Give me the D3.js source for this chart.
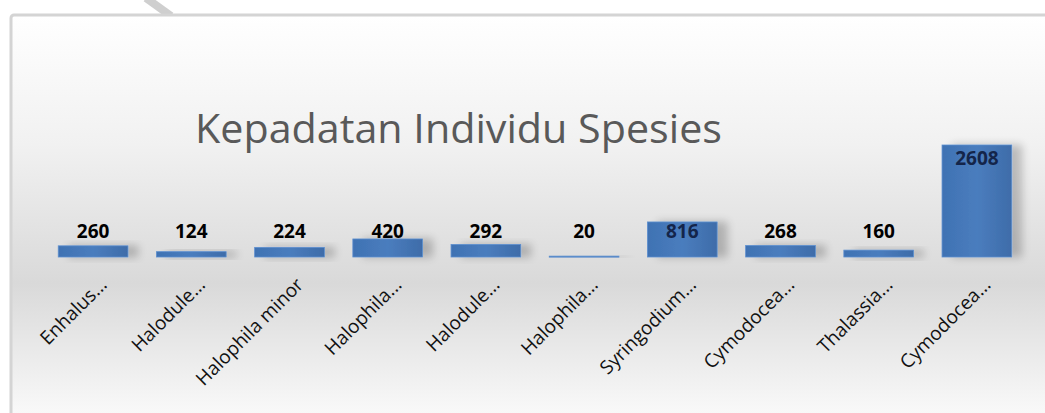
<!DOCTYPE html>
<html>
<head>
<meta charset="utf-8">
<script src="https://cdn.jsdelivr.net/npm/d3@7"></script>
<style>
  body { margin: 0; background: #fff; }
  svg { display: block; }
</style>
</head>
<body>
<div id="chart"></div>
<script>
var width = 1045,
    height = 413

// labels as they show on the axis (truncated by the original chart)
var species = ["Enhalus...", "Halodule...", "Halophila minor", "Halophila...", "Halodule...",
               "Halophila...", "Syringodium...", "Cymodocea...", "Thalassia...", "Cymodocea..."];
var values = [260, 124, 224, 420, 292, 20, 816, 268, 160, 2608];
var title = "Kepadatan Individu Spesies";

var svg = d3.select("#chart").append("svg")
    .attr("width", width)
    .attr("height", height);

var defs = svg.append("defs");

var bg = defs.append("linearGradient")
    .attr("id", "bg")
    .attr("x1", 0).attr("y1", 0).attr("x2", 0).attr("y2", 1);
bg.append("stop").attr("offset", "0%").attr("stop-color", "#ffffff");
bg.append("stop").attr("offset", "30%").attr("stop-color", "#f1f1f1");
bg.append("stop").attr("offset", "62%").attr("stop-color", "#d9d9d9");
bg.append("stop").attr("offset", "93%").attr("stop-color", "#fafafa");
bg.append("stop").attr("offset", "100%").attr("stop-color", "#ffffff");

var barGrad = defs.append("linearGradient")
    .attr("id", "bar")
    .attr("x1", 0).attr("y1", 0).attr("x2", 1).attr("y2", 0);
barGrad.append("stop").attr("offset", "0%").attr("stop-color", "#3f72b3");
barGrad.append("stop").attr("offset", "50%").attr("stop-color", "#4a7dbe");
barGrad.append("stop").attr("offset", "100%").attr("stop-color", "#3e6ca9");

var shadow = defs.append("filter")
    .attr("id", "shadow")
    .attr("x", "-20%").attr("y", "-50%")
    .attr("width", "160%").attr("height", "200%");
shadow.append("feGaussianBlur")
    .attr("in", "SourceAlpha")
    .attr("stdDeviation", 4)
    .attr("result", "blur");
shadow.append("feOffset")
    .attr("in", "blur")
    .attr("dx", 10).attr("dy", 0)
    .attr("result", "off");
shadow.append("feComponentTransfer")
    .attr("in", "off")
    .attr("result", "soft")
    .append("feFuncA").attr("type", "linear").attr("slope", 0.22);
var merge = shadow.append("feMerge");
merge.append("feMergeNode").attr("in", "soft");
merge.append("feMergeNode").attr("in", "SourceGraphic");

// stray watermark stroke at the top
svg.append("line")
    .attr("x1", 146).attr("y1", -2)
    .attr("x2", 171).attr("y2", 16)
    .attr("stroke", "#cfcfcf")
    .attr("stroke-width", 8);

// chart area frame
svg.append("rect")
    .attr("x", 11)
    .attr("y", 15)
    .attr("width", width + 20)
    .attr("height", height + 20)
    .attr("rx", 3)
    .attr("fill", "url(#bg)")
    .attr("stroke", "#d4d4d4")
    .attr("stroke-width", 3);

var x = d3.scaleBand()
    .domain(d3.range(species.length))
    .range([44, 1026])
    .paddingInner(0.29)
    .paddingOuter(0.145);

var y = d3.scaleLinear()
    .domain([0, d3.max(values)])
    .range([257, 145]);

svg.append("text")
    .attr("x", 195)
    .attr("y", 143)
    .attr("fill", "#595959")
    .style("font", "41px 'Open Sans'")
    .attr("textLength", 527)
    .attr("lengthAdjust", "spacingAndGlyphs")
    .text(title);

svg.append("g")
    .selectAll("rect")
    .data(values).enter()
    .append("rect")
    .attr("x", (d, i) => x(i))
    .attr("y", d => y(d))
    .attr("width", x.bandwidth())
    .attr("height", d => Math.max(1, y(0) - y(d)))
    .attr("fill", "url(#bar)")
    .attr("stroke", "#5d8fcf")
    .attr("stroke-width", 0.8)
    .attr("filter", "url(#shadow)");

// value labels: sit on a common line, dropped inside the bar when it is tall
var labelY = d => Math.min(238, y(d) + 20);
svg.append("g")
    .selectAll("text")
    .data(values).enter()
    .append("text")
    .attr("x", (d, i) => x(i) + x.bandwidth() / 2)
    .attr("y", labelY)
    .attr("text-anchor", "middle")
    .style("font", "bold 19px 'Open Sans'")
    .attr("fill", d => (labelY(d) - 14 > y(d)) ? "#14254a" : "#000")
    .text(d => d);

// rotated category labels
svg.append("g")
    .selectAll("text")
    .data(species).enter()
    .append("text")
    .attr("transform", (d, i) => `translate(${x(i) + x.bandwidth() / 2 + 15},${286}) rotate(-45)`)
    .attr("text-anchor", "end")
    .attr("fill", "#111")
    .style("font", "19px 'Open Sans'")
    .text(d => d);
</script>
</body>
</html>
